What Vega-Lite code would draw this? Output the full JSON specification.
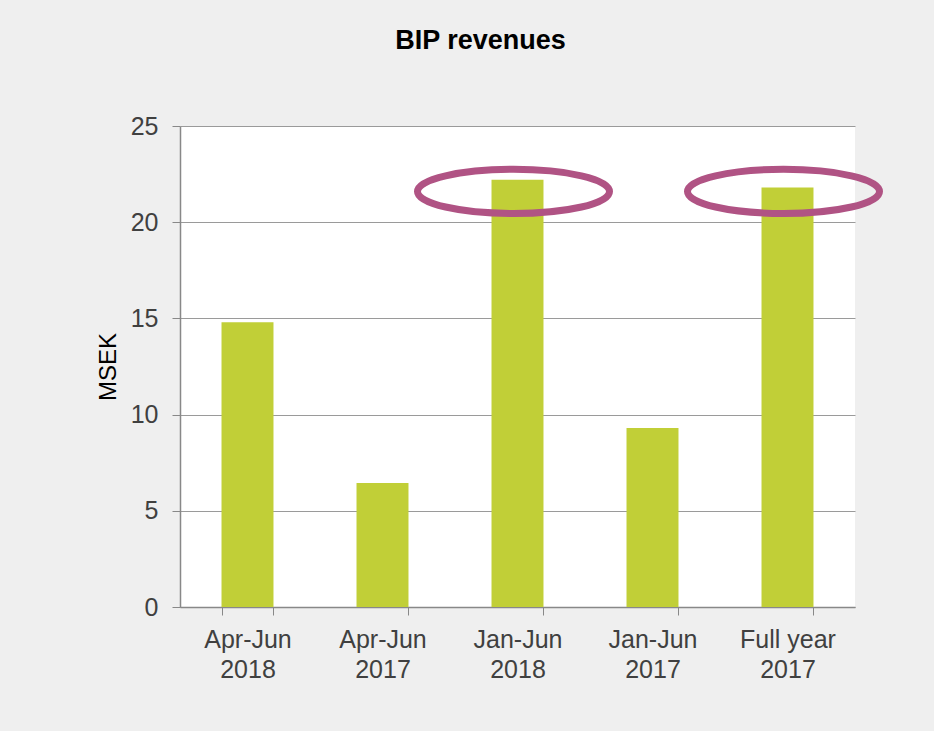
{
  "$schema": "https://vega.github.io/schema/vega-lite/v6.json",
  "autosize": {"type": "none"},
  "width": 675,
  "height": 481,
  "padding": {"left": 180, "top": 126, "right": 79, "bottom": 124},
  "background": "#efefef",
  "title": {
    "text": "BIP revenues",
    "font": "Liberation Sans",
    "fontSize": 27,
    "fontWeight": "bold",
    "color": "#000000",
    "anchor": "middle",
    "frame": "group",
    "dx": -37,
    "offset": 59
  },
  "config": {
    "view": {"fill": "#ffffff", "stroke": null},
    "axis": {
      "labelFont": "Liberation Sans",
      "titleFont": "Liberation Sans",
      "labelColor": "#404040",
      "titleColor": "#000000",
      "domainColor": "#888888",
      "tickColor": "#888888",
      "gridColor": "#9a9a9a"
    }
  },
  "datasets": {
    "bars": [
      {"period": "Apr-Jun\n2018", "msek": 14.8},
      {"period": "Apr-Jun\n2017", "msek": 6.45},
      {"period": "Jan-Jun\n2018", "msek": 22.2},
      {"period": "Jan-Jun\n2017", "msek": 9.3},
      {"period": "Full year\n2017", "msek": 21.8}
    ],
    "marks": [
      {"period": "Jan-Jun\n2018", "msek": 21.6},
      {"period": "Full year\n2017", "msek": 21.6}
    ]
  },
  "encoding": {
    "x": {
      "field": "period",
      "type": "nominal",
      "sort": null,
      "scale": {"paddingInner": 0.615, "paddingOuter": 0.3075},
      "axis": {
        "title": null,
        "labelAngle": 0,
        "labelFontSize": 25,
        "labelExpr": "split(datum.label, '\\n')",
        "labelLineHeight": 30,
        "labelPadding": 12,
        "tickBand": "extent",
        "tickSize": 8,
        "domainWidth": 1.5,
        "grid": false
      }
    },
    "y": {
      "field": "msek",
      "type": "quantitative",
      "scale": {"domain": [0, 25], "nice": false},
      "axis": {
        "title": "MSEK",
        "titleFontSize": 24,
        "titleFontWeight": "normal",
        "titlePadding": 10,
        "values": [0, 5, 10, 15, 20, 25],
        "labelFontSize": 25,
        "labelPadding": 14,
        "tickSize": 8,
        "domainWidth": 1.5,
        "gridWidth": 1
      }
    }
  },
  "layer": [
    {
      "data": {"name": "bars"},
      "mark": {"type": "bar", "color": "#c1cf37"}
    },
    {
      "data": {"name": "marks"},
      "mark": {
        "type": "point",
        "shape": "M -1 0 A 1 0.23 0 1 0 1 0 A 1 0.23 0 1 0 -1 0 Z",
        "size": 36864,
        "filled": false,
        "stroke": "#b05384",
        "strokeWidth": 7,
        "opacity": 1,
        "xOffset": -4
      }
    }
  ]
}
